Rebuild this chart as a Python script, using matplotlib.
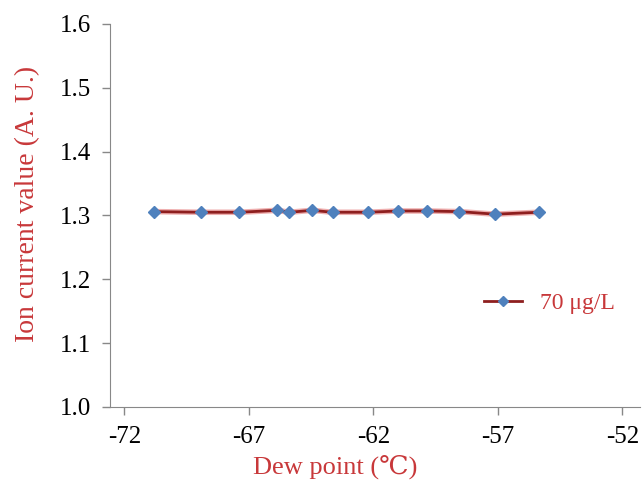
import matplotlib.pyplot as plt

dew_point = [-70.80, -68.92, -67.38, -65.86, -65.37, -64.47, -63.63,
             -62.22, -61.02, -59.86, -58.55, -57.11, -55.37]
ion_current = [1.306, 1.305, 1.305, 1.308, 1.305, 1.308, 1.305,
               1.305, 1.307, 1.307, 1.306, 1.302, 1.305]
x_ticks = [-72, -67, -62, -57, -52]
y_ticks = [1.0, 1.1, 1.2, 1.3, 1.4, 1.5, 1.6]

plt.rcParams['font.family'] = ['Liberation Serif', 'DejaVu Serif']
plt.rcParams['axes.unicode_minus'] = False
red = '#c8383a'

fig = plt.figure(figsize=(6.44, 4.88), dpi=100)
ax = fig.add_axes([0.171, 0.166, 0.823, 0.785])
ax.plot(dew_point, ion_current, color='#e06060', lw=4, alpha=0.5)
ax.plot(dew_point, ion_current, color='#8e1f1f', lw=2, marker='D',
        markersize=6, markerfacecolor='#4f81bd', markeredgecolor='#4f81bd',
        label='70 μg/L')

ax.set_xlim(-72.57, -51.29)
ax.set_ylim(1.0, 1.6)
ax.set_xticks(x_ticks)
ax.set_yticks(y_ticks)
ax.set_yticklabels([f'{v:.1f}' for v in y_ticks])
ax.tick_params(labelsize=18, color='#888888', length=6, width=1)
ax.tick_params(axis='x', pad=8)
ax.tick_params(axis='y', pad=8)
for s in ['top', 'right']:
    ax.spines[s].set_visible(False)
for s in ['left', 'bottom']:
    ax.spines[s].set_color('#888888')
ax.set_xlabel('Dew point (℃)', color=red, fontsize=19)
ax.set_ylabel('Ion current value (A. U.)', color=red, fontsize=20)
ax.xaxis.set_label_coords(0.425, -0.125)
ax.yaxis.set_label_coords(-0.132, 0.53)

leg = ax.legend(loc='center left', bbox_to_anchor=(0.665, 0.27), frameon=False,
                fontsize=17, handlelength=1.6, markerscale=0.8)
for t in leg.get_texts():
    t.set_color(red)

fig.savefig('out.png', dpi=100)
